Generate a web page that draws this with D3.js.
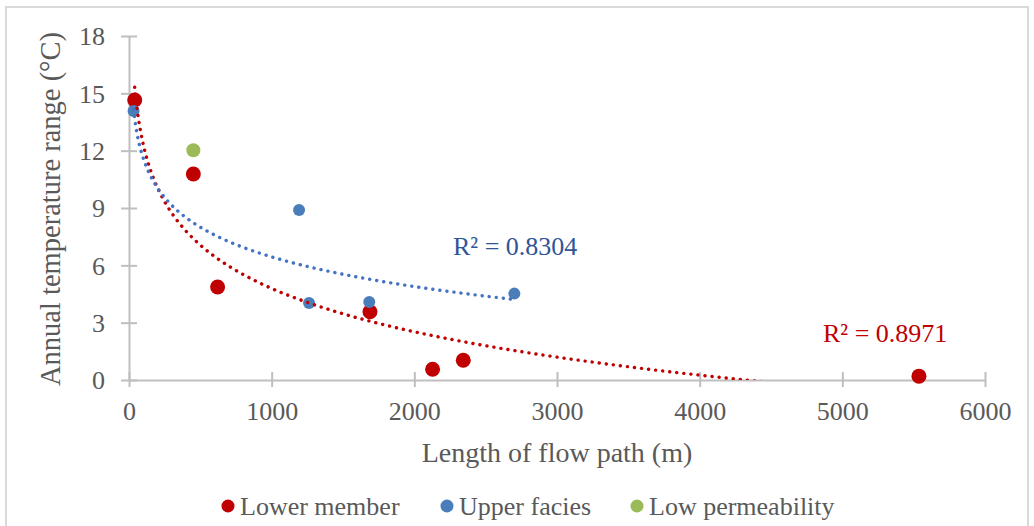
<!DOCTYPE html>
<html>
<head>
<meta charset="utf-8">
<script src="https://cdn.jsdelivr.net/npm/d3@7"></script>
<style>
  body { margin: 0; background: #fff; }
  text { font-family: "Liberation Serif", "Times New Roman", serif; }
</style>
</head>
<body>
<svg id="chart"></svg>
<script>
// data
let lowerX = [40, 451, 621, 1689, 2128, 2343, 5537]
let lowerY = [14.65, 10.78, 4.87, 3.57, 0.56, 1.03, 0.2]
let upperX = [32, 1192, 1262, 1684, 2701]
let upperY = [14.08, 8.9, 4.03, 4.08, 4.52]
let lowPermX = [451]
let lowPermY = [12.02]

let xTicks = [0, 1000, 2000, 3000, 4000, 5000, 6000]
let yTicks = [0, 3, 6, 9, 12, 15, 18]
let seriesNames = ["Lower member", "Upper facies", "Low permeability"]
let seriesColors = ["#C00000", "#4A7EBB", "#9BBB59"]
let r2Labels = ["R² = 0.8971", "R² = 0.8304"]

let width = 1034, height = 526
let padding = { left: 129, right: 49, top: 36, bottom: 146 }

let svg = d3.select("#chart").attr("width", width).attr("height", height)

// outer frame
svg.append("rect")
    .attr("x", 6).attr("y", 7)
    .attr("width", 1022).attr("height", 540)
    .attr("fill", "none").attr("stroke", "#D9D9D9").attr("stroke-width", 2)

let xScale = d3.scaleLinear().domain([0, 6000]).range([padding.left, width - padding.right])
let yScale = d3.scaleLinear().domain([0, 18]).range([height - padding.bottom, padding.top])

// axes
let xAxis = d3.axisBottom(xScale).tickValues(xTicks).tickSize(0).tickPadding(0).tickFormat(d3.format("d"))
let yAxis = d3.axisLeft(yScale).tickValues(yTicks).tickSize(0).tickPadding(0)

let gx = svg.append("g").attr("transform", `translate(0, ${yScale(0)})`).call(xAxis)
let gy = svg.append("g").attr("transform", `translate(${xScale(0)}, 0)`).call(yAxis)
for (let g of [gx, gy]) {
    g.select(".domain").attr("stroke", "#BFBFBF").attr("stroke-width", 2)
    g.selectAll("text").attr("fill", "#595959").style("font-size", "26px")
}
gx.selectAll(".tick line").remove()
gy.selectAll(".tick line").remove()
gx.selectAll(".tick").append("line")
    .attr("y1", -8).attr("y2", 7).attr("stroke", "#BFBFBF").attr("stroke-width", 2)
gy.selectAll(".tick").append("line")
    .attr("x1", -8).attr("x2", 8).attr("stroke", "#BFBFBF").attr("stroke-width", 2)
gx.selectAll(".tick text").attr("y", 40).attr("dy", null)
gy.selectAll(".tick text").attr("x", -24).attr("dy", "0.34em")

// axis titles
svg.append("text")
    .attr("x", 557).attr("y", 462)
    .attr("text-anchor", "middle")
    .attr("fill", "#595959").style("font-size", "28px")
    .text("Length of flow path (m)")
svg.append("text")
    .attr("transform", "translate(60, 209) rotate(-90)")
    .attr("text-anchor", "middle")
    .attr("fill", "#595959").style("font-size", "28.5px")
    .text("Annual temperature range (°C)")

// points
let series = [
    d3.zip(lowerX, lowerY),
    d3.zip(upperX, upperY),
    d3.zip(lowPermX, lowPermY)
]
let radii = [7.5, 6, 7]
series.forEach(function(pts, i) {
    svg.append("g").selectAll("circle")
        .data(pts)
        .enter()
        .append("circle")
        .attr("cx", d => xScale(d[0]))
        .attr("cy", d => yScale(d[1]))
        .attr("r", radii[i])
        .attr("fill", seriesColors[i])
})

// logarithmic trendlines, fitted from the points (like Excel does)
function logFit(xs, ys) {
    let lx = xs.map(Math.log)
    let mx = d3.mean(lx), my = d3.mean(ys)
    let sxy = d3.sum(lx, (v, i) => (v - mx) * (ys[i] - my))
    let sxx = d3.sum(lx, v => (v - mx) * (v - mx))
    let a = sxy / sxx
    return { a: a, b: my - a * mx }
}

svg.append("clipPath").attr("id", "plot-clip")
    .append("rect")
    .attr("x", xScale(0)).attr("y", yScale(18))
    .attr("width", xScale(6000) - xScale(0)).attr("height", yScale(0) - yScale(18))

let trendColors = ["#C00000", "#4472C4"]
let fitted = [[lowerX, lowerY], [upperX, upperY]]
fitted.forEach(function(s, i) {
    let fit = logFit(s[0], s[1])
    let lo = d3.min(s[0]), hi = d3.max(s[0])
    let xs = d3.range(0, 301).map(k => lo * Math.pow(hi / lo, k / 300))
    let line = d3.line()
        .x(d => xScale(d))
        .y(d => yScale(fit.a * Math.log(d) + fit.b))
    svg.append("path")
        .attr("clip-path", "url(#plot-clip)")
        .attr("d", line(xs))
        .attr("fill", "none")
        .attr("stroke", trendColors[i])
        .attr("stroke-width", 3.4)
        .attr("stroke-linecap", "round")
        .attr("stroke-dasharray", "0.1 7")
})

// R² labels
svg.append("text")
    .attr("x", 823).attr("y", 342)
    .attr("fill", "#C00000").style("font-size", "26px")
    .text(r2Labels[0])
svg.append("text")
    .attr("x", 453).attr("y", 255)
    .attr("fill", "#2F5597").style("font-size", "26px")
    .text(r2Labels[1])

// legend
let legendX = [228, 447, 637]
let legend = svg.append("g")
seriesNames.forEach(function(name, i) {
    legend.append("circle")
        .attr("cx", legendX[i]).attr("cy", 506)
        .attr("r", 6.5)
        .attr("fill", seriesColors[i])
    legend.append("text")
        .attr("x", legendX[i] + 12).attr("y", 515)
        .attr("fill", "#595959").style("font-size", "26px")
        .text(name)
})
</script>
</body>
</html>
